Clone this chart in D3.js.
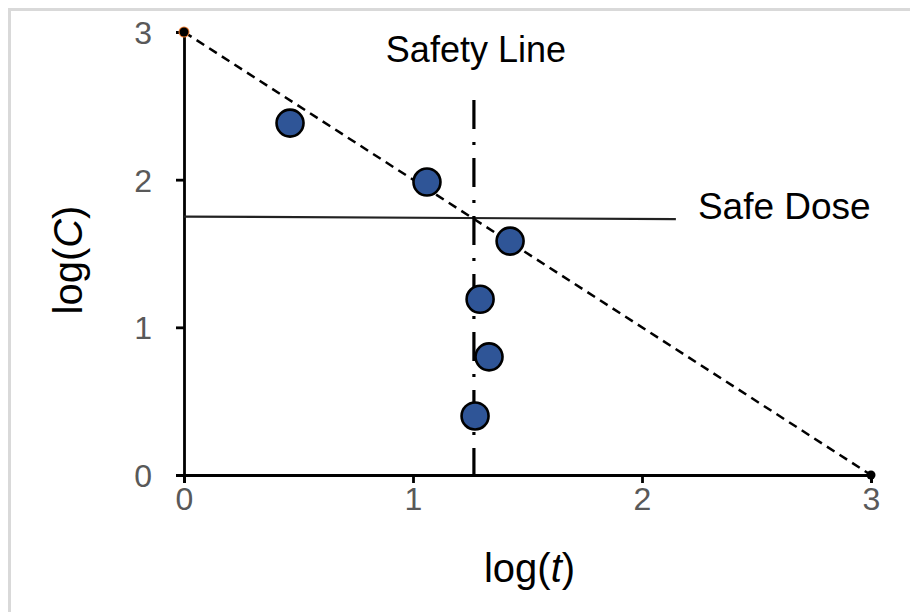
<!DOCTYPE html>
<html>
<head>
<meta charset="utf-8">
<script src="https://cdn.jsdelivr.net/npm/d3@7"></script>
<style>
	body { margin: 0; background: #fff; }
	text { font-family: "Liberation Sans", Arial, sans-serif; }
</style>
</head>
<body>
<div id="chart"></div>
<script>
// measured points, log(t) vs log(C)
var logT = [0.463, 1.061, 1.424, 1.293, 1.332, 1.271];
var logC = [2.383, 1.984, 1.584, 1.190, 0.800, 0.400];

// trend line ends
var trendT = [0, 3];
var trendC = [3, 0];

// safe dose line and safety line
var doseT = [0, 2.148];
var doseC = [1.75, 1.733];
var safetyT = 1.266;
var safetyC = [0, 2.54];

var tickVals = [0, 1, 2, 3];

var W = 910, H = 612,
	margin = {top: 32, right: 39, bottom: 137, left: 184},
	width = W - margin.left - margin.right,
	height = H - margin.top - margin.bottom;

var svg = d3.select("#chart").append("svg")
	.attr("width", W)
	.attr("height", H);

// light frame round the chart area
svg.append("path")
	.attr("d", "M9.5," + H + "V9.5H" + W)
	.attr("fill", "none")
	.attr("stroke", "#d9d9d9")
	.attr("stroke-width", 3);

var g = svg.append("g")
	.attr("transform", "translate(" + margin.left + "," + margin.top + ")");

var x = d3.scaleLinear().domain([0, 3]).range([0, width]);
var y = d3.scaleLinear().domain([0, 3]).range([height, 0]);

/* Axes */

var xAxis = g.append("g")
	.attr("transform", "translate(0," + height + ")")
	.call(d3.axisBottom(x).tickValues(tickVals).tickSize(8).tickPadding(4).tickFormat(d3.format("d")));

var yAxis = g.append("g")
	.call(d3.axisLeft(y).tickValues(tickVals).tickSize(8).tickPadding(24).tickFormat(d3.format("d")));

[xAxis, yAxis].forEach(function(a) {
	a.select(".domain").attr("stroke", "#000").attr("stroke-width", 2.8);
	a.selectAll(".tick line").attr("stroke", "#000").attr("stroke-width", 2.8);
	a.selectAll(".tick text")
		.attr("fill", "#595959")
		.style("font-size", "32px")
		.style("font-family", "'Liberation Sans', Arial, sans-serif");
});
yAxis.selectAll(".tick text").attr("dy", "0.36em");

/* Lines */

var line = d3.line()
	.x(function(d) { return x(d[0]); })
	.y(function(d) { return y(d[1]); });

g.append("path")
	.datum(d3.zip(doseT, doseC))
	.attr("d", line)
	.attr("fill", "none")
	.attr("stroke", "#222")
	.attr("stroke-width", 2.2);

g.append("path")
	.datum(safetyC.map(function(c) { return [safetyT, c]; }).reverse())
	.attr("d", line)
	.attr("fill", "none")
	.attr("stroke", "#000")
	.attr("stroke-width", 3.2)
	.attr("stroke-dasharray", "29,13,3,13");

g.append("path")
	.datum(d3.zip(trendT, trendC))
	.attr("d", line)
	.attr("fill", "none")
	.attr("stroke", "#000")
	.attr("stroke-width", 2.5)
	.attr("stroke-dasharray", "9,6");

// end markers of trend line
g.append("circle")
	.attr("cx", x(trendT[0]))
	.attr("cy", y(trendC[0]))
	.attr("r", 5.5)
	.attr("fill", "#ed7d31");
g.selectAll(".end")
	.data(d3.zip(trendT, trendC))
	.enter().append("circle")
	.attr("class", "end")
	.attr("cx", function(d) { return x(d[0]); })
	.attr("cy", function(d) { return y(d[1]); })
	.attr("r", 4.5)
	.attr("fill", "#000");

/* Points */

g.selectAll(".dot")
	.data(d3.zip(logT, logC))
	.enter().append("circle")
	.attr("class", "dot")
	.attr("cx", function(d) { return x(d[0]); })
	.attr("cy", function(d) { return y(d[1]); })
	.attr("r", 13.5)
	.attr("fill", "#2f5597")
	.attr("stroke", "#000")
	.attr("stroke-width", 2.6);

/* Labels */

g.append("text")
	.attr("x", x(safetyT) + 2)
	.attr("y", 30)
	.attr("text-anchor", "middle")
	.style("font-size", "36px")
	.text("Safety Line");

g.append("text")
	.attr("x", x(doseT[1]) + 22)
	.attr("y", y(doseC[1]))
	.style("font-size", "37px")
	.text("Safe Dose");

svg.append("text")
	.attr("x", margin.left + x(1.5) + 2)
	.attr("y", 582)
	.attr("text-anchor", "middle")
	.style("font-size", "40px")
	.html('log(<tspan font-style="italic">t</tspan>)');

svg.append("text")
	.attr("transform", "translate(82,260) rotate(-90)")
	.attr("text-anchor", "middle")
	.style("font-size", "40px")
	.html('log(<tspan font-style="italic">C</tspan>)');
</script>
</body>
</html>
